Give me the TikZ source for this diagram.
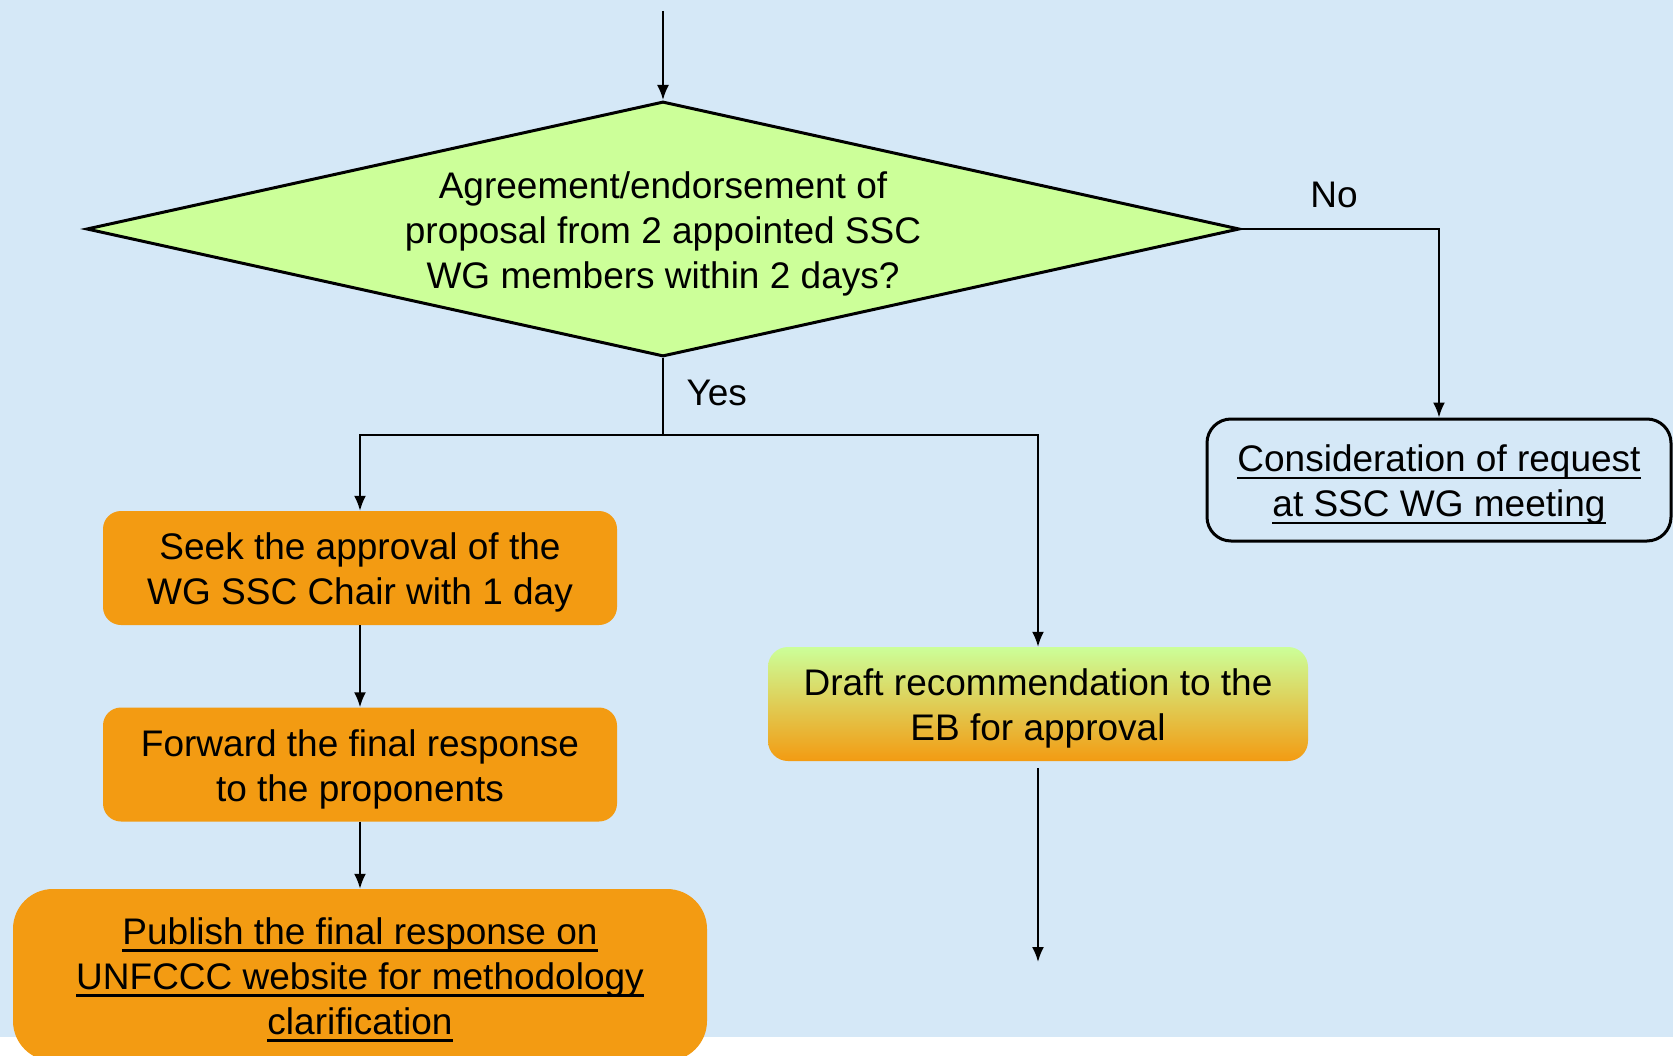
\documentclass[tikz,border=0pt]{standalone}
\usepackage{fontspec}
\setmainfont{Liberation Sans}
\usetikzlibrary{shapes.geometric,arrows.meta}
\definecolor{bgblue}{RGB}{213,232,247}
\definecolor{orng}{RGB}{243,155,18}
\definecolor{lgreen}{RGB}{204,255,153}
\newcommand\myul[1]{\setbox0\hbox{#1}\dp0=0pt\vtop{\box0\kern5pt\hrule height 2.7pt}}
\newcommand\tp{\rule{0pt}{36pt}}
\begin{document}
\begin{tikzpicture}[x=1pt,y=-1pt,
  txt/.style={font=\fontsize{37}{45}\selectfont, align=center, text=black},
  arr/.style={line width=2pt, -{Latex[length=15pt,width=12pt]}},
  conn/.style={line width=2pt},
  obox/.style={txt, rectangle, rounded corners=18pt, fill=orng, inner sep=0pt, minimum width=514pt, minimum height=114pt},
  decision/.style={txt, diamond, draw=black, line width=3pt, fill=lgreen, inner sep=0pt, aspect=4.52, minimum width=1153pt, minimum height=255pt}
]
\useasboundingbox (0,0) rectangle (1673,1056);
\fill[bgblue] (0,0) rectangle (1673,1037);

\node[decision] (dec) at (663,229) {\tp Agreement/endorsement of\\proposal from 2 appointed SSC\\WG members within 2 days?};

\node[txt, rectangle, rounded corners=24pt, draw=black, line width=3pt, fill=bgblue, inner sep=0pt, minimum width=464pt, minimum height=122pt] (cons) at (1439,480) {\tp\myul{Consideration of request}\\\myul{at SSC WG meeting}};

\node[obox] (seek) at (360,568) {\tp Seek the approval of the\\WG SSC Chair with 1 day};
\node[obox] (fwd) at (360,764.5) {\tp Forward the final response\\to the proponents};
\node[obox, rounded corners=40pt, minimum width=694pt, minimum height=172pt] (pub) at (360,975) {\tp\myul{Publish the final response on}\\\myul{UNFCCC website for methodology}\\\myul{clarification}};

\node[txt, rectangle, rounded corners=20pt, top color=lgreen, bottom color=orng, inner sep=0pt, minimum width=540pt, minimum height=114pt] (draft) at (1038,704) {\tp Draft recommendation to the\\EB for approval};

\coordinate (start) at (663,11);
\coordinate (split) at (663,435);
\coordinate (dend) at (1038,962);

\draw[arr] (start) -- (dec.north);
\draw[arr] (dec.east) -| (cons.north);
\draw[conn] (dec.south) -- (split);
\draw[arr] (split) -| (seek.north);
\draw[arr] (split) -| (draft.north);
\draw[arr] (seek.south) -- (fwd.north);
\draw[arr] (fwd.south) -- (pub.north);
\draw[arr, shorten <=7pt] (draft.south) -- (dend);

\node[txt, anchor=west] (yes) at (683,393) {Yes};
\node[txt] (no) at (1334,195) {No};
\end{tikzpicture}
\end{document}
